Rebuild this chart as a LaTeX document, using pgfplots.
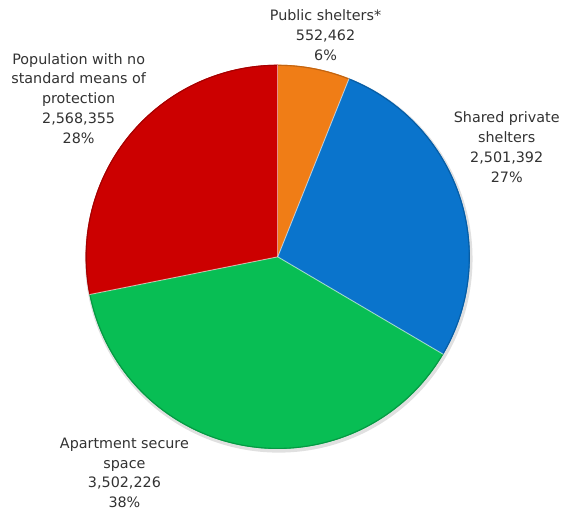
\documentclass[border=0pt]{standalone}
\usepackage{fontspec}
\setmainfont{DejaVu Sans}
\usepackage{pgfplots}
\pgfplotsset{compat=1.18}
\usepackage{pgfplotstable}

\pgfplotstableread{
label value
Public 552462
Shared 2501392
Apartment 3502226
Population 2568355
}\piedata

\pgfplotstablegetelem{0}{value}\of\piedata \edef\vA{\pgfplotsretval}
\pgfplotstablegetelem{1}{value}\of\piedata \edef\vB{\pgfplotsretval}
\pgfplotstablegetelem{2}{value}\of\piedata \edef\vC{\pgfplotsretval}
\pgfplotstablegetelem{3}{value}\of\piedata \edef\vD{\pgfplotsretval}
\edef\tot{\fpeval{\vA+\vB+\vC+\vD}}
\edef\aA{90}
\edef\aB{\fpeval{round(90-360*\vA/\tot,3)}}
\edef\aC{\fpeval{round(90-360*(\vA+\vB)/\tot,3)}}
\edef\aD{\fpeval{round(90-360*(\vA+\vB+\vC)/\tot,3)}}
\edef\aE{-270}

\definecolor{cOrange}{RGB}{240,125,22}
\definecolor{cBlue}{RGB}{10,116,204}
\definecolor{cGreen}{RGB}{8,190,84}
\definecolor{cRed}{RGB}{204,0,0}
\definecolor{txt}{RGB}{50,50,50}

\newcommand\slice[3]{%
  \fill[#3] (axis cs:279,257) -- ++(#1:144.75pt) arc[start angle=#1,end angle=#2,radius=144.75pt] -- cycle;
  \draw[#3!80!black,line width=0.8pt] (axis cs:279,257) ++(#1:144.3pt) arc[start angle=#1,end angle=#2,radius=144.3pt];
}
\newcommand\sep[1]{%
  \draw[white,opacity=0.55,line width=0.7pt] (axis cs:279,257) -- ++(#1:144.75pt);
}

\begin{document}
\begin{tikzpicture}
\begin{axis}[x=0.75pt,y=0.75pt,xmin=0,xmax=564,ymin=0,ymax=515,
  hide axis,scale only axis,clip=false]
\path (axis cs:0,0) rectangle (axis cs:564,515);
\fill[black,opacity=0.12] (axis cs:280,255) circle[radius=146pt];
\slice{\aA}{\aB}{cOrange}
\slice{\aB}{\aC}{cBlue}
\slice{\aC}{\aD}{cGreen}
\slice{\aD}{\aE}{cRed}
\sep{\aA}
\sep{\aB}
\sep{\aC}
\sep{\aD}
\node[align=center,text=txt,font=\fontsize{10.8}{15}\selectfont] at (axis cs:327,480) {Public shelters*\\552,462\\6\%};
\node[align=center,text=txt,font=\fontsize{10.8}{15}\selectfont] at (axis cs:509,367.5) {Shared private\\shelters\\2,501,392\\27\%};
\node[align=center,text=txt,font=\fontsize{10.8}{15}\selectfont] at (axis cs:79,416) {Population with no\\standard means of\\protection\\2,568,355\\28\%};
\node[align=center,text=txt,font=\fontsize{10.8}{15}\selectfont] at (axis cs:125,40) {Apartment secure\\space\\3,502,226\\38\%};
\end{axis}
\end{tikzpicture}
\end{document}
